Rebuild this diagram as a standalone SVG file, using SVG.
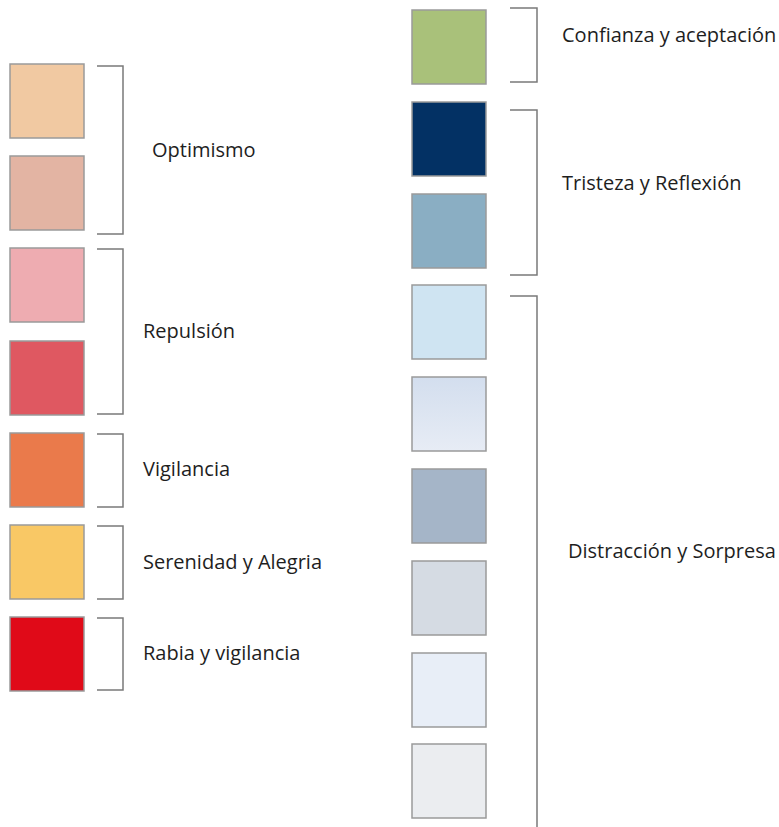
<svg xmlns="http://www.w3.org/2000/svg" width="779" height="827" viewBox="0 0 779 827">
  <defs>
    <linearGradient id="fadeBlue" x1="0" y1="0" x2="0" y2="1">
      <stop offset="0" stop-color="#d3deee"/>
      <stop offset="1" stop-color="#e7ecf5"/>
    </linearGradient>
  </defs>
  <style>
    .sw { stroke: #9a9a9a; stroke-width: 1.5; }
    .br { fill: none; stroke: #7a7a7a; stroke-width: 1.5; }
    .lb { font-family: "Open Sans", "Noto Sans", sans-serif; font-size: 20px; fill: #1e1e1e; }
  </style>
  <rect width="779" height="827" fill="#ffffff"/>

  <!-- left column swatches -->
  <g id="optimismo">
    <rect class="sw" x="10" y="64" width="74" height="74" fill="#f1c9a2"/>
    <rect class="sw" x="10" y="156" width="74" height="74" fill="#e3b4a3"/>
    <text class="lb" x="152" y="157">Optimismo</text>
  </g>
  <g id="repulsion">
    <rect class="sw" x="10" y="248" width="74" height="74" fill="#eeacb1"/>
    <rect class="sw" x="10" y="341" width="74" height="74" fill="#df5861"/>
    <text class="lb" x="143" y="338">Repulsión</text>
  </g>
  <g id="vigilancia">
    <rect class="sw" x="10" y="433" width="74" height="74" fill="#ea7a4b"/>
    <text class="lb" x="143" y="476">Vigilancia</text>
  </g>
  <g id="serenidad">
    <rect class="sw" x="10" y="525" width="74" height="74" fill="#f9c865"/>
    <text class="lb" x="143" y="569">Serenidad y Alegria</text>
  </g>
  <g id="rabia">
    <rect class="sw" x="10" y="617" width="74" height="74" fill="#e00a18"/>
    <text class="lb" x="143" y="660">Rabia y vigilancia</text>
  </g>

  <!-- right column swatches -->
  <g id="confianza">
    <rect class="sw" x="412" y="10" width="74" height="74" fill="#a9c17a"/>
    <text class="lb" x="562" y="42">Confianza y aceptación</text>
  </g>
  <g id="tristeza">
    <rect class="sw" x="412" y="102" width="74" height="74" fill="#033164"/>
    <rect class="sw" x="412" y="194" width="74" height="74" fill="#8aaec3"/>
    <text class="lb" x="562" y="190">Tristeza y Reflexión</text>
  </g>
  <g id="distraccion">
    <rect class="sw" x="412" y="285" width="74" height="74" fill="#cfe4f2"/>
    <rect class="sw" x="412" y="377" width="74" height="74" fill="url(#fadeBlue)"/>
    <rect class="sw" x="412" y="469" width="74" height="74" fill="#a5b5c8"/>
    <rect class="sw" x="412" y="561" width="74" height="74" fill="#d5dbe3"/>
    <rect class="sw" x="412" y="653" width="74" height="74" fill="#e8eef7"/>
    <rect class="sw" x="412" y="744" width="74" height="74" fill="#ebedf0"/>
    <text class="lb" x="568" y="558">Distracción y Sorpresa</text>
  </g>

  <!-- grouping brackets -->
  <g id="connectors">
    <path class="br" d="M97 66 H123 V234 H97"/>
    <path class="br" d="M97 249 H123 V414 H97"/>
    <path class="br" d="M97 434 H123 V507 H97"/>
    <path class="br" d="M97 526 H123 V599 H97"/>
    <path class="br" d="M97 618 H123 V690 H97"/>
    <path class="br" d="M510 8 H537 V82 H510"/>
    <path class="br" d="M510 110 H537 V275 H510"/>
    <path class="br" d="M510 296 H537 V827"/>
  </g>
</svg>
